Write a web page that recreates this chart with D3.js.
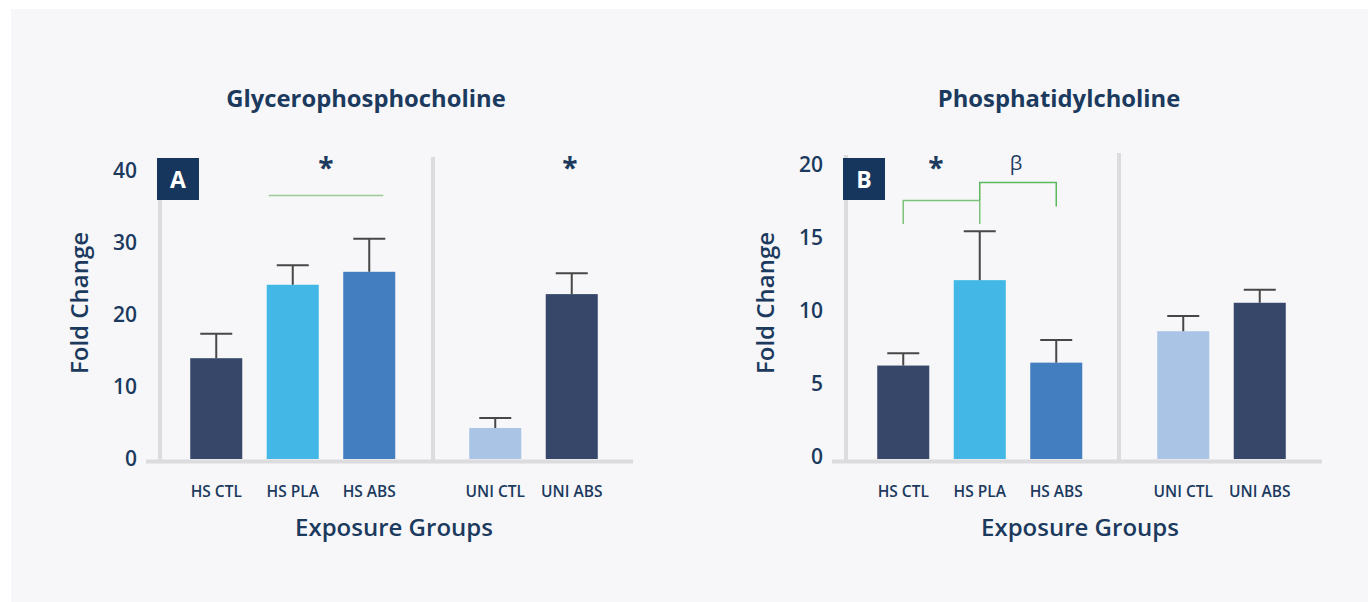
<!DOCTYPE html>
<html><head><meta charset="utf-8">
<script src="https://cdn.jsdelivr.net/npm/d3@7"></script>
<style>
html,body{margin:0;padding:0;background:#fff;}
svg{display:block;font-family:"Open Sans",sans-serif;}
</style></head>
<body>
<svg id="c" width="1368" height="602"></svg>
<script>
const categories = ["HS CTL","HS PLA","HS ABS","UNI CTL","UNI ABS"];
const colorsBar = ["#37476a","#43b8e6","#437ec1","#a9c4e5","#37476a"];
// Panel A: Glycerophosphocholine
const gpcMean = [14.0, 24.2, 26.0, 4.3, 22.9];
const gpcErr  = [17.4, 26.9, 30.6, 5.7, 25.8];
const gpcTicks = [0,10,20,30,40];
// Panel B: Phosphatidylcholine
const pcMean = [6.4, 12.25, 6.6, 8.75, 10.7];
const pcErr  = [7.25, 15.6, 8.15, 9.8, 11.6];
const pcTicks = [0,5,10,15,20];

const svg = d3.select("#c");
const txt = "#1b3a5e";
svg.append("rect").attr("x",11).attr("y",9).attr("width",1357).attr("height",593).attr("fill","#f7f7f9");

function panel(o){
  const g = svg.append("g");
  const y = d3.scaleLinear().domain([0, o.ymax]).range([459, o.ytop]);
  const x1 = d3.scaleBand().domain(categories.slice(0,3)).range([o.x0, o.x0 + 3*o.step]).paddingInner(0.32).paddingOuter(0.16);
  const x2 = d3.scaleBand().domain(categories.slice(3)).range([o.x2, o.x2 + 2*o.step]).paddingInner(0.32).paddingOuter(0.16);
  const xp = c => (categories.indexOf(c) < 3 ? x1(c) : x2(c));
  const bw = x1.bandwidth();

  g.append("line").attr("x1",o.axL).attr("x2",o.axL).attr("y1",o.ytop-12).attr("y2",463).attr("stroke","#dcdcdf").attr("stroke-width",4);
  g.append("line").attr("x1",o.sep).attr("x2",o.sep).attr("y1",o.ytop-14).attr("y2",463).attr("stroke","#dcdcdf").attr("stroke-width",4);
  g.append("line").attr("x1",o.axL-14).attr("x2",o.axR).attr("y1",461.5).attr("y2",461.5).attr("stroke","#dcdcdf").attr("stroke-width",4);

  const ya = d3.axisLeft(y).tickValues(o.ticks).tickSize(0).tickPadding(0);
  const yg = g.append("g").attr("transform",`translate(${o.axL-23},${o.tickShift})`).call(ya);
  yg.select(".domain").remove();
  yg.selectAll("text").attr("fill",txt).attr("font-size",21).attr("font-weight",600).attr("font-family","Open Sans").attr("dy","0.35em");

  const data = categories.map((c,i)=>({c, m:o.mean[i], e:o.err[i], col:colorsBar[i]}));
  g.selectAll(".bar").data(data).join("rect").attr("x",d=>xp(d.c)).attr("width",bw)
    .attr("y",d=>y(d.m)).attr("height",d=>y(0)-y(d.m)).attr("fill",d=>d.col);
  const eg = g.selectAll(".eb").data(data).join("g");
  eg.append("line").attr("x1",d=>xp(d.c)+bw/2).attr("x2",d=>xp(d.c)+bw/2).attr("y1",d=>y(d.m)).attr("y2",d=>y(d.e)).attr("stroke","#474747").attr("stroke-width",2);
  eg.append("line").attr("x1",d=>xp(d.c)+bw/2-16).attr("x2",d=>xp(d.c)+bw/2+16).attr("y1",d=>y(d.e)).attr("y2",d=>y(d.e)).attr("stroke","#474747").attr("stroke-width",2);

  g.selectAll(".xl").data(categories).join("text").attr("x",c=>xp(c)+bw/2).attr("y",497)
    .attr("text-anchor","middle").attr("fill",txt).attr("font-size",15.5).attr("font-weight",600).text(c=>c);

  g.append("text").attr("x",o.titleX).attr("y",107).attr("text-anchor","middle").attr("fill",txt).attr("font-size",23.8).attr("font-weight",700).text(o.title);
  g.append("text").attr("x",o.xtX).attr("y",536).attr("text-anchor","middle").attr("fill",txt).attr("font-size",24).attr("font-weight",600).text("Exposure Groups");
  g.append("text").attr("transform",`translate(${o.axL-72},303) rotate(-90)`).attr("text-anchor","middle").attr("fill",txt).attr("font-size",24).attr("font-weight",600).text("Fold Change");

  g.append("rect").attr("x",o.axL-3).attr("y",158).attr("width",42).attr("height",42).attr("fill","#17365d");
  g.append("text").attr("x",o.axL+18).attr("y",188).attr("text-anchor","middle").attr("fill","#fff").attr("font-size",23).attr("font-weight",700).text(o.letter);

  return {g, y, xp, bw};
}

const A = panel({x0:178, x2:457, step:76.5, ymax:40, ytop:171, ticks:gpcTicks, mean:gpcMean, err:gpcErr, tickShift:-1,
  axL:160, sep:433, axR:633, title:"Glycerophosphocholine", titleX:366, xtX:394, letter:"A"});
A.g.append("line").attr("x1",A.xp("HS PLA")+2).attr("x2",A.xp("HS ABS")+A.bw-12).attr("y1",195.5).attr("y2",195.5).attr("stroke","#9ccc95").attr("stroke-width",1.5);
A.g.append("text").attr("x",326).attr("y",178).attr("text-anchor","middle").attr("fill",txt).attr("font-size",28).attr("font-weight",700).text("*");
A.g.append("text").attr("x",570).attr("y",178).attr("text-anchor","middle").attr("fill",txt).attr("font-size",28).attr("font-weight",700).text("*");

const B = panel({x0:865, x2:1145, step:76.5, ymax:20, ytop:167, ticks:pcTicks, mean:pcMean, err:pcErr, tickShift:-3,
  axL:846, sep:1119, axR:1322, title:"Phosphatidylcholine", titleX:1059, xtX:1080, letter:"B"});
const cx = c => B.xp(c)+B.bw/2;
B.g.append("path").attr("d",`M${cx("HS CTL")},224 V200.5 H${cx("HS PLA")} V224`).attr("fill","none").attr("stroke","#7cc27a").attr("stroke-width",1.5);
B.g.append("path").attr("d",`M${cx("HS PLA")},200 V182.5 H${cx("HS ABS")} V206.5`).attr("fill","none").attr("stroke","#5cb85c").attr("stroke-width",1.5);
B.g.append("text").attr("x",936).attr("y",178).attr("text-anchor","middle").attr("fill",txt).attr("font-size",28).attr("font-weight",700).text("*");
B.g.append("text").attr("x",1016).attr("y",170).attr("text-anchor","middle").attr("fill",txt).attr("font-size",20).attr("font-weight",400).text("β");
</script>
</body></html>
